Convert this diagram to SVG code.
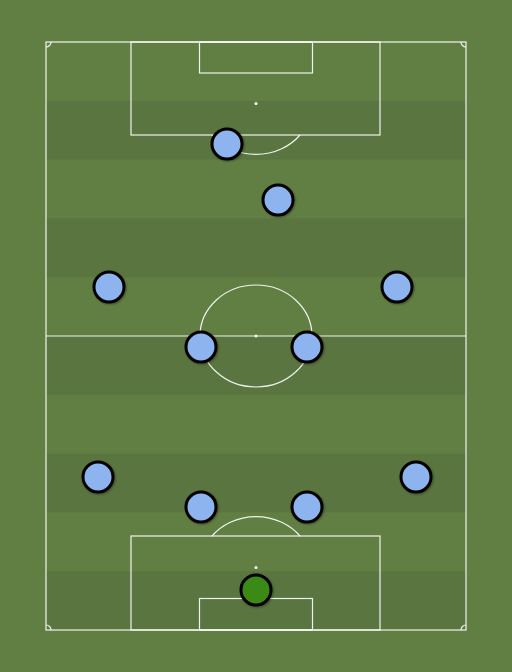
<svg xmlns="http://www.w3.org/2000/svg" width="512" height="672" viewBox="0 0 512 672">
<defs>
<style>
.ln{fill:none;stroke:#ffffff;stroke-width:1.2;stroke-opacity:0.9}
.stripe{fill:#5a7540}
.pl{fill:#8db4ee;stroke:#000000;stroke-width:3}
.gk{fill:#3b8a16;stroke:#000000;stroke-width:3}
.spot{fill:#ffffff}
</style>
<filter id="sh" x="-30%" y="-30%" width="160%" height="160%">
<feDropShadow dx="1" dy="1" stdDeviation="1" flood-color="#000" flood-opacity="0.35"/>
</filter>
</defs>
<rect x="0" y="0" width="512" height="672" fill="#627f43"/>
<g id="stripes">
<rect class="stripe" x="46" y="100.8" width="420" height="58.8"/>
<rect class="stripe" x="46" y="218.4" width="420" height="58.8"/>
<rect class="stripe" x="46" y="336" width="420" height="58.8"/>
<rect class="stripe" x="46" y="453.6" width="420" height="58.8"/>
<rect class="stripe" x="46" y="571.2" width="420" height="58.8"/>
</g>
<g id="pitch">
<rect class="ln" x="46" y="42" width="420" height="588"/>
<line class="ln" x1="46" y1="336" x2="466" y2="336"/>
<ellipse class="ln" cx="256" cy="336" rx="56" ry="51"/>
<circle class="spot" cx="256" cy="336" r="1.5"/>
<rect class="ln" x="131" y="42" width="249" height="93"/>
<rect class="ln" x="199.5" y="42" width="113" height="31"/>
<circle class="spot" cx="256" cy="103.5" r="1.5"/>
<path class="ln" d="M 212 135 A 56 51 0 0 0 300 135"/>
<rect class="ln" x="131" y="536" width="249" height="94"/>
<rect class="ln" x="199.5" y="598.5" width="113" height="31.5"/>
<circle class="spot" cx="256" cy="567.5" r="1.5"/>
<path class="ln" d="M 212 536 A 56 51 0 0 1 300 536"/>
<path class="ln" d="M 46 47 A 5 5 0 0 0 51 42"/>
<path class="ln" d="M 461 42 A 5 5 0 0 0 466 47"/>
<path class="ln" d="M 46 625 A 5 5 0 0 1 51 630"/>
<path class="ln" d="M 461 630 A 5 5 0 0 1 466 625"/>
</g>
<g id="connectors"></g>
<g id="p1" filter="url(#sh)"><circle class="pl" cx="227" cy="144" r="15"/></g>
<g id="p2" filter="url(#sh)"><circle class="pl" cx="278" cy="200" r="15"/></g>
<g id="p3" filter="url(#sh)"><circle class="pl" cx="109" cy="287" r="15"/></g>
<g id="p4" filter="url(#sh)"><circle class="pl" cx="397" cy="287" r="15"/></g>
<g id="p5" filter="url(#sh)"><circle class="pl" cx="201" cy="347" r="15"/></g>
<g id="p6" filter="url(#sh)"><circle class="pl" cx="307" cy="347" r="15"/></g>
<g id="p7" filter="url(#sh)"><circle class="pl" cx="98" cy="477" r="15"/></g>
<g id="p8" filter="url(#sh)"><circle class="pl" cx="416" cy="477" r="15"/></g>
<g id="p9" filter="url(#sh)"><circle class="pl" cx="201" cy="507" r="15"/></g>
<g id="p10" filter="url(#sh)"><circle class="pl" cx="307" cy="507" r="15"/></g>
<g id="gk" filter="url(#sh)"><circle class="gk" cx="256" cy="590" r="15"/></g>
</svg>
